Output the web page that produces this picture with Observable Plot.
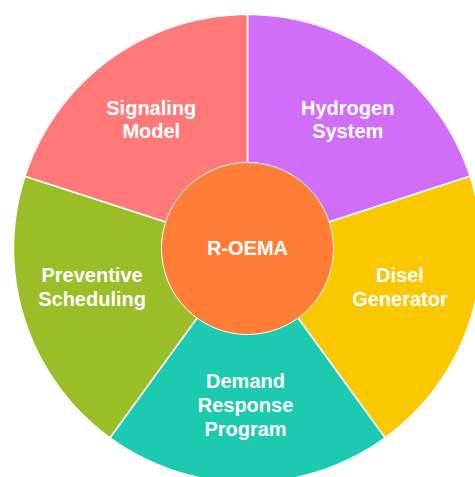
<!DOCTYPE html>
<html><head><meta charset="utf-8">
<script src="https://cdn.jsdelivr.net/npm/d3@7"></script>
<script src="https://cdn.jsdelivr.net/npm/@observablehq/plot@0.6"></script>
<style>html,body{margin:0;padding:0;overflow:hidden;background:#fff}</style>
</head><body><div id="chart"></div>
<script>
// Data
const categories = ["Hydrogen\nSystem", "Disel\nGenerator", "Demand\nResponse\nProgram", "Preventive\nScheduling", "Signaling\nModel"];
const shares = [1, 1, 1, 1, 1];
const colors = ["#D06EF7", "#F9C800", "#1CCAB0", "#9BBD27", "#FF7979"];
const centerLabel = "R-OEMA";
const centerColor = "#FF7D36";

// Layout constants (pixels)
const W = 475, H = 477;
const cx = 247, cy = 248, R = 234, innerPx = 86;
const labelR = 0.685;
const labelNudge = [[6, 0], [0, -12], [-2, -4], [-3, -12], [-2, 0]];

const arcs = d3.pie().sort(null).value(d => d)(shares);
const slicePts = [];
arcs.forEach((a, i) => {
  const n = 80;
  slicePts.push({key: i, x: 0, y: 0, fill: colors[i]});
  for (let k = 0; k <= n; k++) {
    const t = a.startAngle + (a.endAngle - a.startAngle) * k / n;
    slicePts.push({key: i, x: Math.sin(t), y: Math.cos(t), fill: colors[i]});
  }
  slicePts.push({key: i, x: 0, y: 0, fill: colors[i]});
});
const labels = arcs.map((a, i) => {
  const m = (a.startAngle + a.endAngle) / 2;
  return {text: categories[i], x: labelR * Math.sin(m), y: labelR * Math.cos(m)};
});

const chart = Plot.plot({
  width: W, height: H,
  margin: 0,
  x: {domain: [-1, 1], range: [cx - R, cx + R], axis: null},
  y: {domain: [-1, 1], range: [cy + R, cy - R], axis: null},
  style: {fontFamily: "'Liberation Sans', Arial, sans-serif", background: "white"},
  marks: [
    Plot.line(slicePts, {x: "x", y: "y", z: "key", fill: d => d.fill, stroke: "white", strokeWidth: 1.5, strokeLinejoin: "round", clip: true}),
    Plot.dot([{x: 0, y: 0}], {x: "x", y: "y", r: innerPx, fill: centerColor, stroke: "white", strokeWidth: 1}),
    ...labels.map((l, i) => Plot.text([l], {x: "x", y: "y", text: "text", dx: labelNudge[i][0], dy: labelNudge[i][1], fill: "white", fontSize: 20, fontWeight: "bold", lineHeight: 1.2})),
    Plot.text([{x: 0, y: 0}], {x: "x", y: "y", text: [centerLabel], fill: "white", fontSize: 20, fontWeight: "bold"})
  ]
});
document.getElementById("chart").appendChild(chart);
</script>
</body></html>
